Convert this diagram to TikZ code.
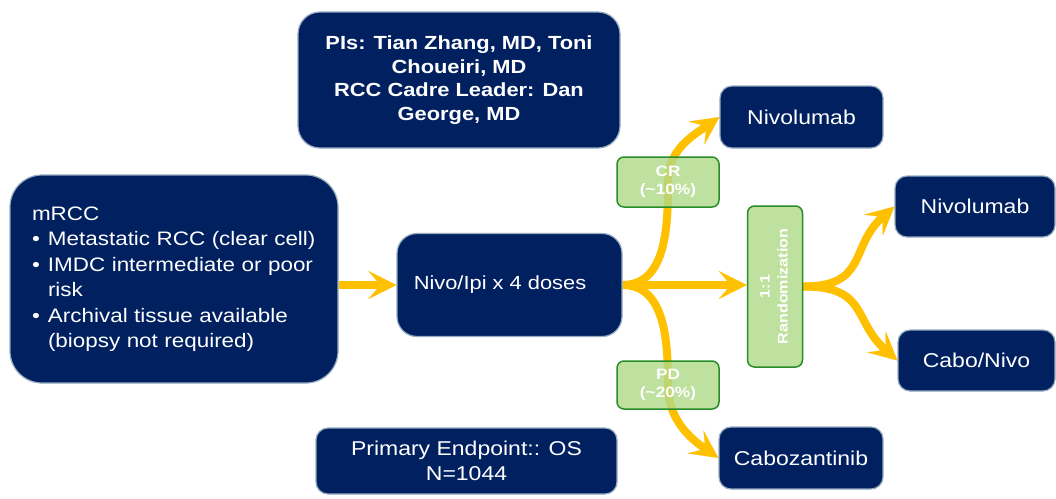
\documentclass[tikz,border=0pt]{standalone}
\usepackage{fontspec}
\usepackage{graphicx}
\setmainfont{Liberation Sans}[FakeStretch=1.15]
\usetikzlibrary{arrows.meta}
\pgfdeclarelayer{bg}
\pgfsetlayers{bg,main}
\definecolor{navy}{RGB}{0,32,96}
\definecolor{navyedge}{RGB}{150,172,192}
\definecolor{gfill}{RGB}{176,218,136}
\definecolor{gedge}{RGB}{40,140,40}
\definecolor{gold}{RGB}{255,192,0}
\newcommand\bul{\makebox[16pt][l]{\textbullet}}

\begin{document}
\begin{tikzpicture}[x=1pt,y=1pt,
  navybox/.style={draw=navyedge, line width=1.2pt, fill=navy, text=white,
    rounded corners=12pt, inner sep=0pt, align=center,
    font=\fontsize{20}{25}\selectfont},
  greenbox/.style={draw=gedge, line width=1.5pt, fill=gfill, fill opacity=0.8,
    text opacity=1, text=white, rounded corners=7pt, inner sep=0pt, align=center,
    font=\bfseries\fontsize{15}{18}\selectfont},
  arr/.style={draw=gold, line width=8pt,
    -{Stealth[length=28pt,width=28pt,inset=12pt,line width=0.1pt]}},
]
\useasboundingbox (0,0) rectangle (1056,-498);

% navy boxes
\node[navybox, rounded corners=22pt, minimum width=322pt, minimum height=136pt,
  font=\bfseries\fontsize{19}{23.5}\selectfont] (pis) at (459,-80)
  {PIs: Tian Zhang, MD, Toni\\Choueiri, MD\\RCC Cadre Leader: Dan\\George, MD};

\node[navybox, rounded corners=32pt, minimum width=328pt, minimum height=208pt,
  align=left, text width=284pt, font=\fontsize{19.5}{25.5}\selectfont] (mrcc) at (174,-279)
  {mRCC\\
   \bul Metastatic RCC (clear cell)\\
   \bul IMDC intermediate or poor\\
   \hspace*{16pt}risk\\
   \bul Archival tissue available\\
   \hspace*{16pt}(biopsy not required)};

\node[navybox, rounded corners=20pt, minimum width=225pt, minimum height=103pt,
  font=\fontsize{19}{24}\selectfont] (ipi) at (509.5,-285)
  {Nivo/Ipi x 4 doses\hspace*{19pt}};

\node[navybox, minimum width=163pt, minimum height=62pt] (niv1) at (801.5,-117) {Nivolumab};
\node[navybox, minimum width=160pt, minimum height=61pt] (niv2) at (975,-206.5) {Nivolumab};
\node[navybox, minimum width=157pt, minimum height=61pt] (cabonivo) at (976.5,-360.5) {Cabo/Nivo};
\node[navybox, minimum width=164pt, minimum height=62pt] (cabo) at (801,-458) {Cabozantinib};
\node[navybox, minimum width=301pt, minimum height=66pt] (endpt) at (466.5,-461)
  {Primary Endpoint:: OS\\N=1044};

% green decision boxes
\node[greenbox, minimum width=102pt, minimum height=50pt] (cr) at (668,-182) {CR\\(\textasciitilde10\%)};
\node[greenbox, minimum width=102pt, minimum height=48pt] (pd) at (668,-385) {PD\\(\textasciitilde20\%)};
\node[greenbox, minimum width=55pt, minimum height=161pt,
  font=\bfseries\fontsize{14}{18}\selectfont] (rand) at (775,-286.5)
  {\rotatebox{90}{\begin{tabular}{@{}c@{}}1:1\\Randomization\end{tabular}}};

% white page and flow arrows, behind the boxes
\begin{pgfonlayer}{bg}
\fill[white] (0,0) rectangle (1056,-498);
\draw[arr] (mrcc.east |- ipi.west) -- (ipi.west);
\draw[arr] (ipi.east) -- (ipi.east -| rand.west);
\draw[arr] (ipi.east) to[out=0,in=-90] (cr.center) to[out=90,in=215] (niv1.west);
\draw[arr] (ipi.east) to[out=0,in=90] (pd.center) to[out=-90,in=145] (cabo.west);
\draw[arr] (rand.east) .. controls +(65,0) and +(-45,-40) .. (niv2.west);
\draw[arr] (rand.east) .. controls +(65,0) and +(-45,40) .. (cabonivo.west);
\end{pgfonlayer}
\end{tikzpicture}
\end{document}
